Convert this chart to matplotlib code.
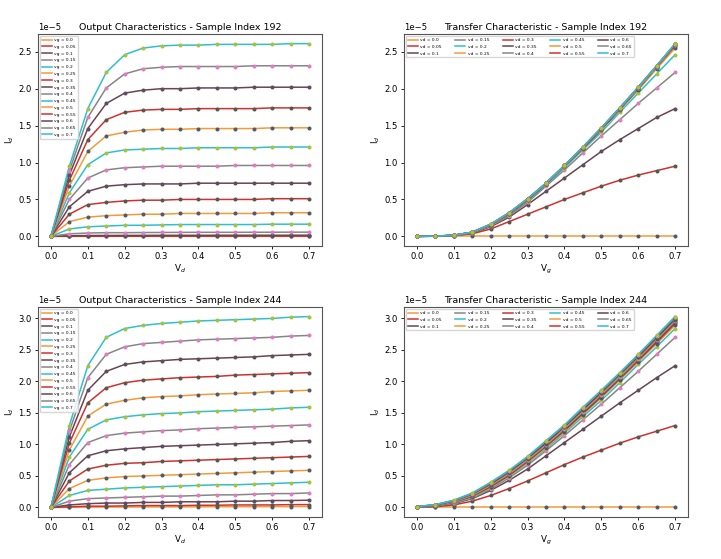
import matplotlib
matplotlib.use("Agg")
import matplotlib.pyplot as plt
import numpy as np

voltages = [0.0, 0.05, 0.1, 0.15, 0.2, 0.25, 0.3, 0.35, 0.4, 0.45, 0.5, 0.55, 0.6, 0.65, 0.7]
vg_labels = ["vg = 0.0", "vg = 0.05", "vg = 0.1", "vg = 0.15", "vg = 0.2", "vg = 0.25", "vg = 0.3",
             "vg = 0.35", "vg = 0.4", "vg = 0.45", "vg = 0.5", "vg = 0.55", "vg = 0.6", "vg = 0.65", "vg = 0.7"]
vd_labels = ["vd = 0.0", "vd = 0.05", "vd = 0.1", "vd = 0.15", "vd = 0.2", "vd = 0.25", "vd = 0.3",
             "vd = 0.35", "vd = 0.4", "vd = 0.45", "vd = 0.5", "vd = 0.55", "vd = 0.6", "vd = 0.65", "vd = 0.7"]

# Drain current (units of 1e-5 A); rows = vg, columns = vd
id_192 = [
    [0, 0.0001, 0.0002, 0.0002, 0.0003, 0.0003, 0.0003, 0.0004, 0.0004, 0.0004, 0.0004, 0.0005, 0.0005, 0.0005, 0.0005],
    [0, 0.001, 0.002, 0.002, 0.002, 0.002, 0.0025, 0.0025, 0.0025, 0.003, 0.003, 0.003, 0.003, 0.003, 0.003],
    [0, 0.008, 0.011, 0.012, 0.013, 0.013, 0.014, 0.014, 0.014, 0.015, 0.015, 0.015, 0.015, 0.015, 0.016],
    [0, 0.035, 0.045, 0.05, 0.05, 0.052, 0.053, 0.054, 0.055, 0.055, 0.055, 0.056, 0.056, 0.057, 0.057],
    [0, 0.10, 0.13, 0.14, 0.15, 0.15, 0.155, 0.16, 0.16, 0.16, 0.16, 0.16, 0.165, 0.165, 0.165],
    [0, 0.20, 0.26, 0.28, 0.29, 0.30, 0.30, 0.31, 0.31, 0.31, 0.31, 0.31, 0.32, 0.32, 0.32],
    [0, 0.30, 0.43, 0.46, 0.48, 0.49, 0.49, 0.50, 0.50, 0.50, 0.50, 0.50, 0.51, 0.51, 0.51],
    [0, 0.40, 0.61, 0.68, 0.70, 0.71, 0.71, 0.71, 0.72, 0.72, 0.72, 0.72, 0.72, 0.72, 0.72],
    [0, 0.50, 0.79, 0.90, 0.93, 0.94, 0.95, 0.95, 0.95, 0.95, 0.96, 0.96, 0.96, 0.96, 0.96],
    [0, 0.59, 0.97, 1.13, 1.17, 1.18, 1.19, 1.19, 1.20, 1.20, 1.20, 1.20, 1.21, 1.21, 1.21],
    [0, 0.68, 1.15, 1.36, 1.41, 1.44, 1.45, 1.45, 1.46, 1.46, 1.46, 1.46, 1.47, 1.47, 1.47],
    [0, 0.76, 1.31, 1.58, 1.68, 1.71, 1.72, 1.72, 1.73, 1.73, 1.73, 1.73, 1.74, 1.74, 1.74],
    [0, 0.83, 1.46, 1.80, 1.94, 1.98, 2.00, 2.00, 2.01, 2.01, 2.01, 2.02, 2.02, 2.02, 2.02],
    [0, 0.89, 1.61, 2.01, 2.20, 2.27, 2.29, 2.30, 2.30, 2.30, 2.30, 2.31, 2.31, 2.31, 2.31],
    [0, 0.95, 1.73, 2.22, 2.46, 2.55, 2.58, 2.59, 2.59, 2.60, 2.60, 2.60, 2.60, 2.61, 2.61],
]

id_244 = [
    [0, 0.003, 0.005, 0.006, 0.007, 0.008, 0.009, 0.010, 0.010, 0.011, 0.012, 0.012, 0.013, 0.014, 0.015],
    [0, 0.010, 0.020, 0.020, 0.025, 0.030, 0.030, 0.030, 0.035, 0.035, 0.040, 0.040, 0.040, 0.045, 0.045],
    [0, 0.04, 0.06, 0.07, 0.07, 0.08, 0.08, 0.09, 0.09, 0.09, 0.10, 0.10, 0.11, 0.11, 0.115],
    [0, 0.10, 0.14, 0.15, 0.16, 0.17, 0.18, 0.18, 0.19, 0.20, 0.20, 0.21, 0.22, 0.22, 0.23],
    [0, 0.19, 0.27, 0.29, 0.31, 0.32, 0.33, 0.34, 0.35, 0.36, 0.36, 0.37, 0.38, 0.39, 0.40],
    [0, 0.30, 0.43, 0.47, 0.49, 0.50, 0.51, 0.52, 0.53, 0.54, 0.55, 0.56, 0.57, 0.58, 0.59],
    [0, 0.42, 0.61, 0.67, 0.70, 0.71, 0.73, 0.74, 0.75, 0.76, 0.77, 0.78, 0.79, 0.80, 0.81],
    [0, 0.55, 0.82, 0.90, 0.93, 0.95, 0.97, 0.98, 0.99, 1.00, 1.01, 1.02, 1.03, 1.05, 1.06],
    [0, 0.68, 1.03, 1.14, 1.18, 1.20, 1.22, 1.23, 1.25, 1.26, 1.27, 1.28, 1.29, 1.30, 1.31],
    [0, 0.80, 1.24, 1.39, 1.44, 1.47, 1.49, 1.50, 1.52, 1.53, 1.54, 1.55, 1.56, 1.58, 1.59],
    [0, 0.91, 1.45, 1.64, 1.70, 1.74, 1.76, 1.77, 1.79, 1.80, 1.81, 1.82, 1.84, 1.85, 1.86],
    [0, 1.02, 1.66, 1.90, 1.98, 2.02, 2.04, 2.06, 2.07, 2.08, 2.10, 2.11, 2.12, 2.13, 2.14],
    [0, 1.12, 1.86, 2.16, 2.27, 2.31, 2.33, 2.35, 2.36, 2.37, 2.38, 2.39, 2.41, 2.42, 2.43],
    [0, 1.21, 2.06, 2.43, 2.55, 2.60, 2.62, 2.64, 2.66, 2.67, 2.68, 2.69, 2.70, 2.72, 2.73],
    [0, 1.30, 2.25, 2.70, 2.84, 2.89, 2.92, 2.94, 2.96, 2.97, 2.98, 2.99, 3.00, 3.02, 3.03],
]

line_colors = ["#f39a3a", "#d0312d", "#6a4550", "#868686", "#2fbfcf"]
marker_colors = ["#525a6a", "#55594f", "#5c4e62", "#e07cc0", "#a9c23c"]

W, H = 721, 559
fig = plt.figure(figsize=(W / 100, H / 100), dpi=100)

def ax_at(l, t, r, b):
    return fig.add_axes([l / W, 1 - b / H, (r - l) / W, (b - t) / H])

axes = {
    "out192": ax_at(38, 34, 322, 246),
    "tr192": ax_at(404, 34, 688, 246),
    "out244": ax_at(38, 307, 322, 517),
    "tr244": ax_at(404, 307, 688, 517),
}

def style(ax, title, xlabel):
    ax.set_title(title, fontsize=6.8, pad=3)
    ax.set_xlabel(xlabel, fontsize=6.3, labelpad=1)
    ax.set_ylabel(r"I$_d$", fontsize=6.3, labelpad=2)
    ax.tick_params(labelsize=6.1, length=2.5, width=0.6, pad=2)
    ax.yaxis.get_offset_text().set_fontsize(6.1)
    for s in ax.spines.values():
        s.set_linewidth(0.8)
        s.set_color("#555555")

def draw(ax, matrix, transpose, labels):
    m = np.array(matrix) * 1e-5
    if transpose:
        m = m.T
    for i in range(len(voltages)):
        ax.plot(voltages, m[i], color=line_colors[i % 5], lw=1.1, label=labels[i], zorder=2)
        ax.plot(voltages, m[i], linestyle="none", marker="o", markersize=1.9,
                color=marker_colors[i % 5], zorder=3)

leg_kw = dict(loc="upper left", fontsize=3.2, handlelength=2.2, labelspacing=0.6,
              borderpad=0.4, handletextpad=0.6, framealpha=0.8)

draw(axes["out192"], id_192, False, vg_labels)
style(axes["out192"], "Output Characteristics - Sample Index 192", r"V$_d$")
axes["out192"].legend(**leg_kw)

draw(axes["tr192"], id_192, True, vd_labels)
style(axes["tr192"], "Transfer Characteristic - Sample Index 192", r"V$_g$")
axes["tr192"].legend(ncol=5, columnspacing=3.0, **leg_kw)

draw(axes["out244"], id_244, False, vg_labels)
style(axes["out244"], "Output Characteristics - Sample Index 244", r"V$_d$")
axes["out244"].legend(**leg_kw)

draw(axes["tr244"], id_244, True, vd_labels)
style(axes["tr244"], "Transfer Characteristic - Sample Index 244", r"V$_g$")
axes["tr244"].legend(ncol=5, columnspacing=3.0, **leg_kw)

fig.savefig("out.png", dpi=100)
